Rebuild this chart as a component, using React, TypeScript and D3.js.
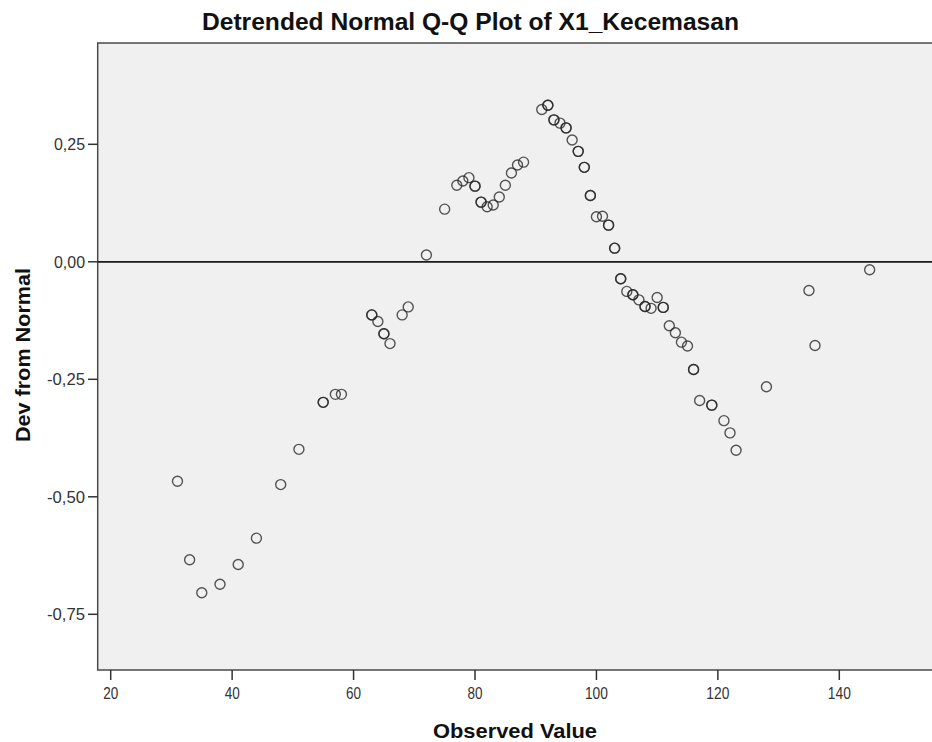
import React from "react";
import * as d3 from "d3";

const observed = [31,33,35,38,41,44,48,51,55,57,58,63,64,65,66,68,69,72,75,77,78,79,80,81,82,83,84,85,86,87,88,91,92,93,94,95,96,97,98,99,100,101,102,103,104,105,106,107,108,109,110,111,112,113,114,115,116,117,119,121,122,123,128,135,136,145];
const deviation = [-0.467,-0.634,-0.704,-0.686,-0.644,-0.588,-0.474,-0.399,-0.299,-0.282,-0.282,-0.113,-0.127,-0.153,-0.174,-0.113,-0.096,0.0145,0.112,0.163,0.172,0.179,0.161,0.127,0.117,0.121,0.138,0.163,0.189,0.206,0.212,0.324,0.333,0.302,0.295,0.285,0.259,0.235,0.201,0.141,0.096,0.097,0.078,0.029,-0.036,-0.063,-0.070,-0.081,-0.095,-0.099,-0.076,-0.097,-0.136,-0.151,-0.171,-0.179,-0.229,-0.295,-0.305,-0.338,-0.364,-0.401,-0.266,-0.061,-0.178,-0.017];
const caseCounts = [1,1,1,1,1,1,1,1,2,1,1,2,1,2,1,1,1,1,1,1,1,1,2,2,1,1,1,1,1,1,1,1,2,2,1,2,1,2,2,2,1,1,2,2,2,1,2,1,2,1,1,2,1,1,1,1,2,1,2,1,1,1,1,1,1,1];
const xTicks = [20,40,60,80,100,120,140];
const yTicks = [0.25,0,-0.25,-0.5,-0.75];

const title = "Detrended Normal Q-Q Plot of X1_Kecemasan";
const xTitle = "Observed Value";
const yTitle = "Dev from Normal";

const locale = d3.formatLocale({ decimal: ",", thousands: ".", grouping: [3], currency: ["", ""], minus: "-" });
const fmt = locale.format(".2f");

export default function App() {
  const W = 932, H = 742;
  const left = 97.7, top = 43, bottom = 670;
  const x = d3.scaleLinear().domain([20, 140]).range([110.7, 839.3]);
  const y = d3.scaleLinear().domain([0.25, -0.75]).range([144.3, 614.3]);
  const font = "'Liberation Sans', Arial, sans-serif";

  const pts: { cx: number; cy: number; k: string }[] = [];
  observed.forEach((v, i) => {
    for (let c = 0; c < caseCounts[i]; c++) {
      pts.push({ cx: x(v), cy: y(deviation[i]), k: `${i}-${c}` });
    }
  });

  return (
    <svg width={W} height={H} style={{ position: "absolute", left: 0, top: 0, background: "#fff" }} fontFamily={font}>
      <rect x={left} y={top} width={W - left + 10} height={bottom - top} fill="#f0f0f0" stroke="#4a4a4a" strokeWidth={1.5} />
      <line x1={left} x2={W} y1={y(0)} y2={y(0)} stroke="#1a1a1a" strokeWidth={1.7} />
      {pts.map((p) => (
        <circle key={p.k} cx={p.cx} cy={p.cy} r={5} fill="none" stroke="#262626" strokeOpacity={0.78} strokeWidth={1.4} />
      ))}
      {yTicks.map((t) => (
        <g key={"y" + t}>
          <line x1={88} x2={left} y1={y(t)} y2={y(t)} stroke="#333" strokeWidth={1.5} />
          <text x={85} y={y(t)} dy="0.36em" textAnchor="end" fontSize={16} fill="#333" textLength={t < 0 ? 38 : 31} lengthAdjust="spacingAndGlyphs">{fmt(t)}</text>
        </g>
      ))}
      {xTicks.map((t) => (
        <g key={"x" + t}>
          <line x1={x(t)} x2={x(t)} y1={bottom} y2={bottom + 10} stroke="#333" strokeWidth={1.5} />
          <text x={x(t)} y={699} textAnchor="middle" fontSize={16} fill="#333" textLength={t >= 100 ? 23 : 15} lengthAdjust="spacingAndGlyphs">{t}</text>
        </g>
      ))}
      <text x={470.5} y={30} textAnchor="middle" fontSize={23} fontWeight="bold" fill="#111" textLength={537} lengthAdjust="spacingAndGlyphs">{title}</text>
      <text x={515} y={738} textAnchor="middle" fontSize={21} fontWeight="bold" fill="#111" textLength={164} lengthAdjust="spacingAndGlyphs">{xTitle}</text>
      <text transform={`translate(30,355) rotate(-90)`} textAnchor="middle" fontSize={21} fontWeight="bold" fill="#111" textLength={174} lengthAdjust="spacingAndGlyphs">{yTitle}</text>
    </svg>
  );
}
